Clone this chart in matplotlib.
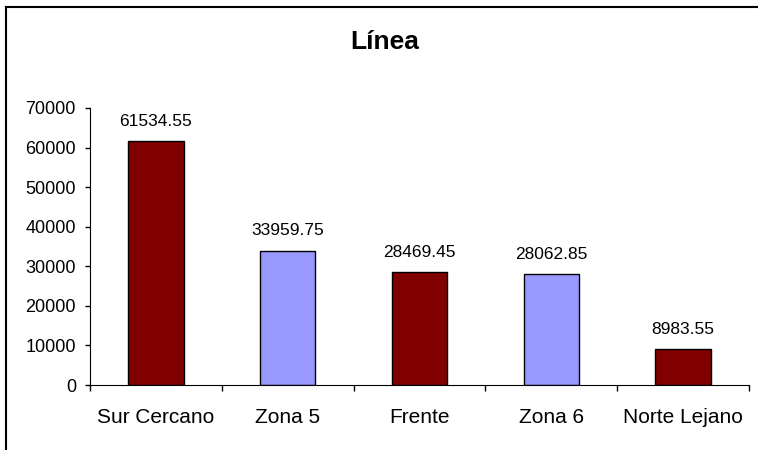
import matplotlib
matplotlib.use("Agg")
import matplotlib.pyplot as plt
from matplotlib.lines import Line2D
import numpy as np

plt.rcParams['font.family'] = ['Liberation Sans', 'DejaVu Sans']

categories = ['Sur Cercano', 'Zona 5', 'Frente', 'Zona 6', 'Norte Lejano']
values = [61534.55, 33959.75, 28469.45, 28062.85, 8983.55]
labels = ['61534.55', '33959.75', '28469.45', '28062.85', '8983.55']
colors = ['#800000', '#9999FF', '#800000', '#9999FF', '#800000']

fig = plt.figure(figsize=(7.58, 4.5), dpi=100)
ax = fig.add_axes([90 / 758, 1 - 385 / 450, (749 - 90) / 758, (385 - 108) / 450])

x = np.arange(len(categories))
bars = ax.bar(x, values, width=0.42, color=colors, edgecolor='black', linewidth=1)

for b, lab in zip(bars, labels):
    ax.annotate(lab, (b.get_x() + b.get_width() / 2, b.get_height()),
                xytext=(0, 11), textcoords='offset points',
                ha='center', va='baseline', fontsize=12.5)

ax.set_xlim(-0.5, len(categories) - 0.5)
ax.set_ylim(0, 70000)
ax.set_yticks(np.arange(0, 70001, 10000))
ax.tick_params(axis='y', labelsize=13, length=3.6, width=1, pad=6.5)

# category boundaries carry the ticks, names sit in the middle
ax.set_xticks(np.arange(-0.5, len(categories)), minor=False)
ax.set_xticklabels([])
ax.set_xticks(x, minor=True)
ax.set_xticklabels(categories, minor=True, fontsize=15)
ax.tick_params(axis='x', which='major', length=4.3, width=1)
ax.tick_params(axis='x', which='minor', length=0, pad=16.5)

ax.spines['top'].set_visible(False)
ax.spines['right'].set_visible(False)

fig.text(385 / 758, 1 - 49 / 450, 'Línea', ha='center', va='baseline',
         fontsize=19, fontweight='bold')

# chart area frame (right and bottom edges fall outside the picture)
fig.add_artist(Line2D([5.5 / 758, 1.01], [1 - 6.5 / 450, 1 - 6.5 / 450],
                      transform=fig.transFigure, color='black', lw=1.5))
fig.add_artist(Line2D([5.5 / 758, 5.5 / 758], [1 - 6.5 / 450, -0.01],
                      transform=fig.transFigure, color='black', lw=1.5))

fig.savefig('out.png', dpi=100)
